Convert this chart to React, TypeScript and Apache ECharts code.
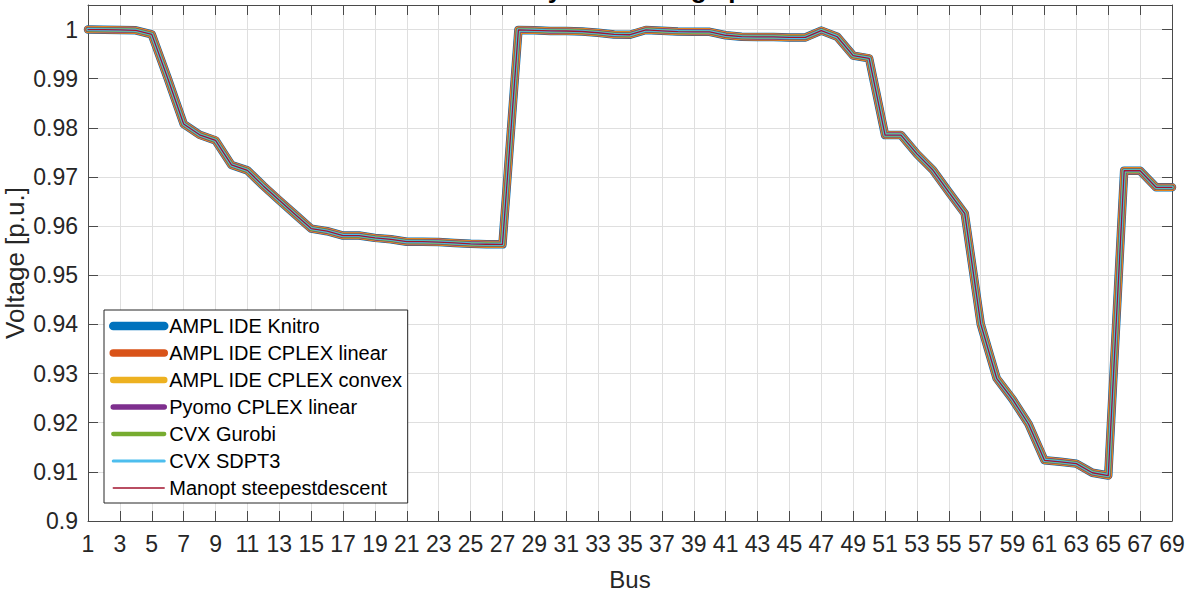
import { useEffect, useRef } from "react";
import * as echarts from "echarts";

// Bus numbers (x categories)
const busNumbers = [
  "1", "2", "3", "4", "5", "6", "7", "8", "9", "10",
  "11", "12", "13", "14", "15", "16", "17", "18", "19", "20",
  "21", "22", "23", "24", "25", "26", "27", "28", "29", "30",
  "31", "32", "33", "34", "35", "36", "37", "38", "39", "40",
  "41", "42", "43", "44", "45", "46", "47", "48", "49", "50",
  "51", "52", "53", "54", "55", "56", "57", "58", "59", "60",
  "61", "62", "63", "64", "65", "66", "67", "68", "69",
];

// Bus voltage magnitudes [p.u.] (all solvers coincide)
const busVoltage = [
  1.0, 0.99997, 0.99993, 0.99984, 0.99902, 0.99009, 0.98079, 0.97858, 0.97745, 0.97245,
  0.97135, 0.96819, 0.96526, 0.96237, 0.9595, 0.95897, 0.95809, 0.95808, 0.95761, 0.95732,
  0.95683, 0.95683, 0.95675, 0.95658, 0.9564, 0.95632, 0.9563, 0.99993, 0.99985, 0.99973,
  0.99971, 0.99961, 0.99935, 0.99901, 0.99895, 0.99992, 0.99975, 0.99959, 0.99954, 0.99954,
  0.99884, 0.99855, 0.99851, 0.9985, 0.99841, 0.9984, 0.99979, 0.99854, 0.9947, 0.99415,
  0.97853, 0.97853, 0.9747, 0.97141, 0.96693, 0.96256, 0.9401, 0.92904, 0.92476, 0.91974,
  0.91234, 0.91205, 0.91167, 0.90982, 0.90925, 0.97127, 0.97127, 0.9679, 0.9679,
];

const solverNames = [
  "AMPL IDE Knitro",
  "AMPL IDE CPLEX linear",
  "AMPL IDE CPLEX convex",
  "Pyomo CPLEX linear",
  "CVX Gurobi",
  "CVX SDPT3",
  "Manopt steepestdescent",
];

const voltageKnitro = busVoltage;
const voltageCplexLinear = busVoltage;
const voltageCplexConvex = busVoltage;
const voltagePyomo = busVoltage;
const voltageGurobi = busVoltage;
const voltageSdpt3 = busVoltage;
const voltageManopt = busVoltage;
const solverVoltages = [
  voltageKnitro,
  voltageCplexLinear,
  voltageCplexConvex,
  voltagePyomo,
  voltageGurobi,
  voltageSdpt3,
  voltageManopt,
];

const titleText = "69-bus system voltage profile";

// styles
const colors = ["#0072BD", "#D95319", "#EDB120", "#7E2F8E", "#77AC30", "#4DBEEE", "#A2142F"];
const widths = [8.5, 7.5, 6.5, 5.5, 4.3, 3, 1.3];
const FONT = "'Liberation Sans', Arial, Helvetica, sans-serif";
const axisColor = "#4a4a4a";
const textColor = "#262626";
const gridColor = "#dfdfdf";

export default function App() {
  const ref = useRef<HTMLDivElement>(null);

  useEffect(() => {
    document.body.style.margin = "0";
    if (!ref.current) return;
    const chart = echarts.init(ref.current, undefined, { renderer: "svg" });

    const series = solverNames.map((name, i) => ({
      type: "line",
      name,
      data: solverVoltages[i],
      xAxisIndex: 0,
      yAxisIndex: 0,
      symbol: "none",
      showSymbol: false,
      lineStyle: { color: colors[i], width: widths[i], join: "round", cap: "round" },
      itemStyle: { color: colors[i] },
      emphasis: { disabled: true },
      z: 2 + i,
    }));

    chart.setOption({
      animation: false,
      grid: { left: 88, right: 24, top: 5, bottom: 74, containLabel: false, outerBoundsMode: "none" },
      graphic: [
        {
          type: "text",
          x: 625,
          y: -11.5,
          silent: true,
          style: {
            text: titleText,
            fontSize: 26,
            fontWeight: "bold",
            fontFamily: FONT,
            fill: "#000",
            align: "center",
            verticalAlign: "middle",
          },
        },
      ],
      legend: {
        show: true,
        orient: "vertical",
        left: 104,
        top: 310,
        itemWidth: 51,
        itemHeight: 14,
        itemGap: 7,
        padding: [6, 5, 5, 5],
        backgroundColor: "#ffffff",
        borderColor: "#262626",
        borderWidth: 1,
        borderRadius: 0,
        selectedMode: false,
        lineStyle: { width: "inherit" },
        itemStyle: { opacity: 0, borderWidth: 0 },
        textStyle: { fontSize: 20, color: "#000", fontFamily: FONT },
        data: solverNames,
        z: 10,
      },
      xAxis: [
        {
          type: "category",
          data: busNumbers,
          boundaryGap: false,
          position: "bottom",
          axisLine: { show: true, lineStyle: { color: axisColor, width: 1 } },
          axisTick: { show: true, inside: true, length: 10, interval: 1, lineStyle: { color: axisColor } },
          axisLabel: { interval: 1, fontSize: 23, color: textColor, margin: 11, fontFamily: FONT },
          splitLine: { show: true, interval: 1, lineStyle: { color: gridColor, width: 1 } },
          name: "Bus",
          nameLocation: "middle",
          nameGap: 46,
          nameMoveOverlap: false,
          nameTextStyle: { fontSize: 24, color: textColor, fontFamily: FONT },
        },
        {
          type: "category",
          data: busNumbers,
          boundaryGap: false,
          position: "top",
          axisLine: { show: true, lineStyle: { color: axisColor, width: 1 } },
          axisTick: { show: true, inside: true, length: 10, interval: 1, lineStyle: { color: axisColor } },
          axisLabel: { show: false },
          splitLine: { show: false },
        },
      ],
      yAxis: [
        {
          type: "value",
          min: 0.9,
          max: 1.005,
          interval: 0.01,
          position: "left",
          axisLine: { show: true, lineStyle: { color: axisColor, width: 1 } },
          axisTick: { show: true, inside: true, length: 10, lineStyle: { color: axisColor } },
          axisLabel: {
            fontSize: 23,
            color: textColor,
            margin: 10,
            fontFamily: FONT,
            showMaxLabel: false,
            formatter: (v: number) => String(parseFloat(v.toFixed(3))),
          },
          splitLine: { show: true, lineStyle: { color: gridColor, width: 1 } },
          name: "Voltage [p.u.]",
          nameLocation: "middle",
          nameGap: 60,
          nameMoveOverlap: false,
          nameTextStyle: { fontSize: 26, color: textColor, fontFamily: FONT },
        },
        {
          type: "value",
          min: 0.9,
          max: 1.005,
          interval: 0.01,
          position: "right",
          axisLine: { show: true, lineStyle: { color: axisColor, width: 1 } },
          axisTick: { show: true, inside: true, length: 10, lineStyle: { color: axisColor } },
          axisLabel: { show: false },
          splitLine: { show: false },
        },
      ],
      series,
    });

    return () => chart.dispose();
  }, []);

  return <div ref={ref} style={{ width: 1196, height: 595 }} />;
}
